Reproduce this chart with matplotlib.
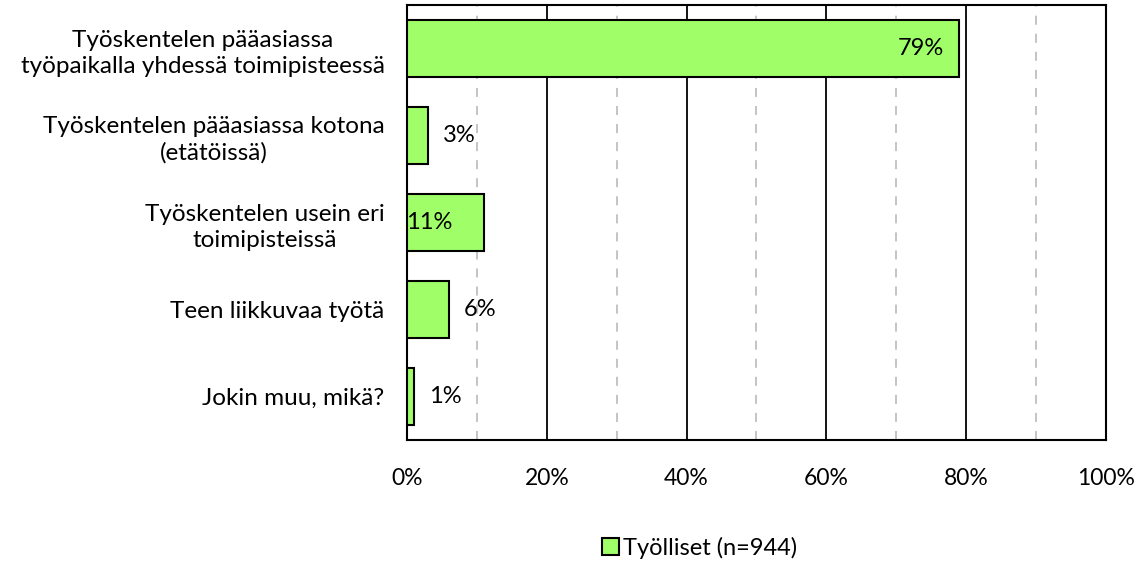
import matplotlib
matplotlib.use("Agg")
from matplotlib import pyplot as plt
from matplotlib.ticker import MultipleLocator, FuncFormatter

# data
categories = [
    "Työskentelen pääasiassa\ntyöpaikalla yhdessä toimipisteessä",
    "Työskentelen pääasiassa kotona\n(etätöissä)",
    "Työskentelen usein eri\ntoimipisteissä",
    "Teen liikkuvaa työtä",
    "Jokin muu, mikä?",
]
values = [79, 3, 11, 6, 1]
value_labels = ["79%", "3%", "11%", "6%", "1%"]
series_name = "Työlliset (n=944)"

plt.rcParams["font.family"] = ["Lato", "DejaVu Sans"]

fig = plt.figure(figsize=(11.38, 5.62), dpi=100)
ax = fig.add_axes([0.3576, 0.217, 0.6143, 0.774])

pos = list(range(len(categories)))
bars = ax.barh(pos, values, height=0.66, color="#A0FF68",
               edgecolor="black", linewidth=1.5, label=series_name, zorder=3)

ax.set_xlim(0, 100)
ax.set_ylim(len(categories) - 0.5, -0.5)

# gridlines: solid major, dashed minor
ax.xaxis.set_major_locator(MultipleLocator(20))
ax.xaxis.set_minor_locator(MultipleLocator(10))
ax.grid(axis="x", which="major", color="black", linewidth=1.3, zorder=1)
ax.grid(axis="x", which="minor", color="#BFBFBF", linewidth=1.3,
        linestyle=(0, (5, 5)), zorder=1)
ax.xaxis.set_major_formatter(FuncFormatter(lambda v, p: "%d%%" % v))

ax.set_yticks(pos)
ax.set_yticklabels(categories, multialignment="center", fontsize=17.5,
                   linespacing=1.3)
ax.tick_params(axis="y", length=0, pad=16)
ax.tick_params(axis="x", which="both", length=0, pad=20, labelsize=16.5)

for s in ax.spines.values():
    s.set_linewidth(1.5)

# value labels
for i, (v, lab) in enumerate(zip(values, value_labels)):
    if v > 50:
        ax.annotate(lab, (v, i), xytext=(-11, 0), textcoords="offset points",
                    ha="right", va="center", fontsize=17, zorder=4)
    elif lab == "11%":
        ax.annotate(lab, (0, i), xytext=(-1, 0), textcoords="offset points",
                    ha="left", va="center", fontsize=17, zorder=4)
    else:
        ax.annotate(lab, (v, i), xytext=(11, 0), textcoords="offset points",
                    ha="left", va="center", fontsize=17, zorder=4)

fig.legend(handles=[bars], labels=[series_name], loc="center",
           bbox_to_anchor=(0.615, 0.025), frameon=False, fontsize=17,
           handlelength=0.7, handleheight=0.7, handletextpad=0.2)

fig.savefig("out.png", dpi=100)
